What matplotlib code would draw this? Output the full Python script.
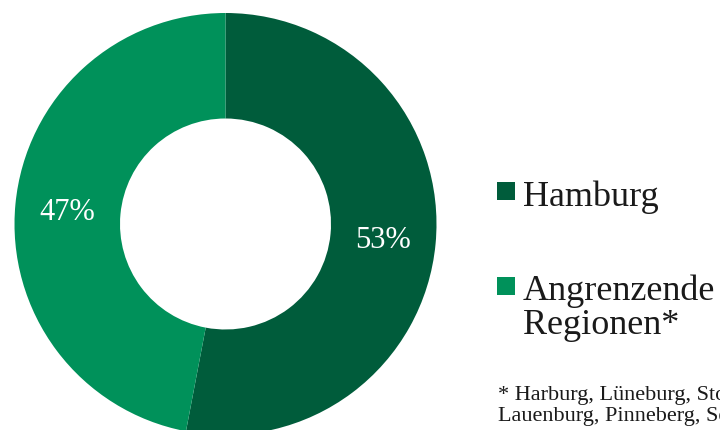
import matplotlib
matplotlib.use("Agg")
import matplotlib.pyplot as plt
from matplotlib.patches import Rectangle

# Share of employees by place of residence
categories = ["Hamburg", "Angrenzende\nRegionen*"]
shares = [53, 47]
colors = ["#005C3B", "#00915A"]
footnote = "* Harburg, Lüneburg, Stormarn, Herzogtum\nLauenburg, Pinneberg, Segeberg"

W, H = 720, 431
fig = plt.figure(figsize=(W / 100, H / 100), dpi=100)
ax = fig.add_axes([0, 0, 1, 1])

serif = ["Liberation Serif", "DejaVu Serif"]

cx, cy, R = 225.5, H - 225, 211
wedges, _ = ax.pie(
    shares, colors=colors, startangle=90, counterclock=False,
    center=(cx, cy), radius=R, wedgeprops=dict(width=R * 0.5, linewidth=0),
    frame=True,
)
ax.set_xlim(0, W)
ax.set_ylim(0, H)
ax.set_aspect("equal")
ax.axis("off")

# percentage labels inside the ring
label_pos = [(383, H - 241), (67, H - 212)]
for (x, y), v in zip(label_pos, shares):
    ax.text(x, y, f"{v}%", color="white", fontsize=22, family=serif,
            ha="center", va="center")

# legend
leg_y = [H - 192, H - 287]
for (name, col, y) in zip(categories, colors, leg_y):
    ax.add_patch(Rectangle((497, y - 9), 18, 18, color=col, lw=0))
    ax.text(523, y + 12, name, fontsize=26, family=serif, color="#1a1a1a",
            ha="left", va="top", linespacing=1.0)

ax.text(498, H - 386, footnote, fontsize=16, family=serif, color="#1a1a1a",
        ha="left", va="top", linespacing=1.15)

fig.savefig("out.png", dpi=100)
